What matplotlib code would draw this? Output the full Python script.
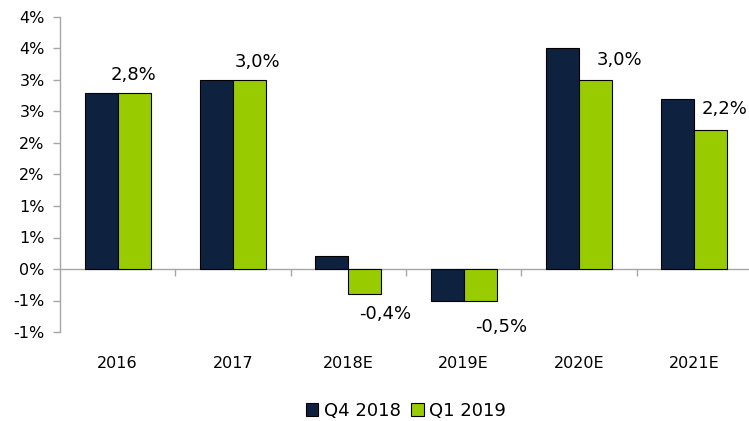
import matplotlib
matplotlib.use("Agg")
import matplotlib.pyplot as plt
import numpy as np

categories = ["2016", "2017", "2018E", "2019E", "2020E", "2021E"]
q4_2018 = [2.8, 3.0, 0.2, -0.5, 3.5, 2.7]
q1_2019 = [2.8, 3.0, -0.4, -0.5, 3.0, 2.2]
series_names = ["Q4 2018", "Q1 2019"]
data_labels = ["2,8%", "3,0%", "-0,4%", "-0,5%", "3,0%", "2,2%"]
ytick_values = [-1.0, -0.5, 0.0, 0.5, 1.0, 1.5, 2.0, 2.5, 3.0, 3.5, 4.0]
ytick_labels = ["-1%", "-1%", "0%", "1%", "1%", "2%", "2%", "3%", "3%", "4%", "4%"]

# label offsets (pixels: dx from green bar centre, dy from bar end)
label_offsets_px = [(-1, 18), (8, 18), (20, -20), (21, -27), (24, 20), (14, 21)]

navy = "#0E2240"
green = "#99CC00"
gray = "#A6A6A6"

plt.rcParams["font.family"] = ["DejaVu Sans"]

W, H = 749, 421
fig = plt.figure(figsize=(W / 100, H / 100), dpi=100)
ax = fig.add_axes([60 / W, 1 - 332 / H, 692 / W, 315 / H])

x = np.arange(len(categories))
bw = 0.285
b1 = ax.bar(x - bw / 2, q4_2018, bw, color=navy, edgecolor="black", linewidth=0.8, label=series_names[0], zorder=3)
b2 = ax.bar(x + bw / 2, q1_2019, bw, color=green, edgecolor="black", linewidth=0.8, label=series_names[1], zorder=3)

ax.set_xlim(-0.5, len(categories) - 0.5)
ax.set_ylim(-1, 4)

for i, (lab, v) in enumerate(zip(data_labels, q1_2019)):
    dx, dy = label_offsets_px[i]
    ax.annotate(lab, xy=(x[i] + bw / 2, v), xytext=(dx * 0.72, dy * 0.72),
                textcoords="offset points", ha="center", va="center",
                fontsize=13, color="black", zorder=5)

for s in ["top", "right", "bottom"]:
    ax.spines[s].set_visible(False)
ax.spines["left"].set_color(gray)
ax.spines["left"].set_linewidth(1.0)

ax.set_yticks(ytick_values)
ax.set_yticklabels(ytick_labels)
ax.tick_params(axis="y", length=5, width=1.0, color=gray, pad=6, labelsize=11.5, labelcolor="black")

ax.set_xticks(x)
ax.set_xticklabels(categories)
ax.tick_params(axis="x", length=0, pad=17, labelsize=11.5, labelcolor="black")

ax.axhline(0, color=gray, linewidth=1.0, zorder=2)

sec = ax.secondary_xaxis((0 - (-1)) / 5)
sec.set_xticks(x[:-1] + 0.5)
sec.tick_params(axis="x", length=5, width=1.0, color=gray, labelbottom=False)
sec.spines["bottom"].set_visible(False)

fig.legend(handles=[b1, b2], labels=series_names, loc="center",
           bbox_to_anchor=((60 + 752) / 2 / W, 1 - 411 / H), ncol=2,
           frameon=False, fontsize=13, handlelength=0.7, handleheight=0.7,
           handletextpad=0.3, columnspacing=0.6)

fig.savefig("out.png", dpi=100)
